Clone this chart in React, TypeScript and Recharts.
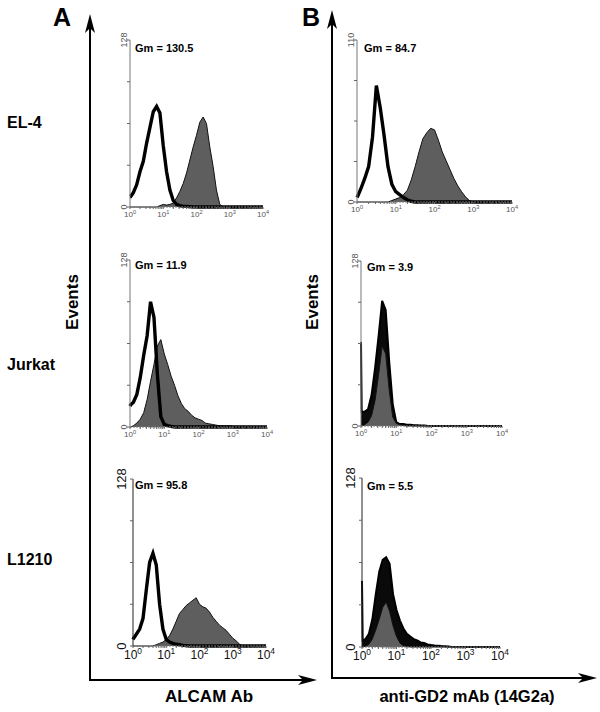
import React from 'react';
import { ComposedChart, Area, Line, XAxis, YAxis } from 'recharts';

const FONT = '"Liberation Sans", Arial, Helvetica, sans-serif';

// log10 fluorescence bins (first two points close together to show the pile-up at the axis)
const bins = [
  0, 0.02, 0.1, 0.2, 0.3, 0.4, 0.5, 0.6, 0.7, 0.8, 0.9, 1.0, 1.1, 1.2, 1.3, 1.4, 1.5, 1.6, 1.7, 1.8, 1.9,
  2.0, 2.1, 2.2, 2.3, 2.4, 2.5, 2.6, 2.7, 2.8, 2.9, 3.0, 3.1, 3.2, 3.3, 3.4, 3.5, 3.6, 3.7, 3.8, 3.9, 4.0,
];

// A: ALCAM Ab, open = control, filled = stained
const el4AlcamCtrl = [8, 8, 11, 17, 27, 35, 49, 61, 73, 77, 72, 47, 27, 13, 5, 2, 1, 0.5, 0.5, 0.3, 0, 0, 0, 0, 0, 0, 0, 0, 0, 0, 0, 0, 0, 0, 0, 0, 0, 0, 0, 0, 0, 0];
const el4AlcamAb = [0, 0, 0, 0, 0, 0, 0, 0, 0, 0, 1, 2, 1.5, 2, 3, 7, 12, 18, 26, 36, 46, 55, 65, 69, 64, 46, 31, 13, 2, 0, 0, 0, 0, 0, 0, 0, 0, 0, 0, 0, 0, 0];
const jurkatAlcamCtrl = [16, 17, 19, 25, 38, 55, 70, 96, 84, 40, 8, 2, 1, 0.5, 0, 0, 0, 0, 0, 0, 0, 0, 0, 0, 0, 0, 0, 0, 0, 0, 0, 0, 0, 0, 0, 0, 0, 0, 0, 0, 0, 0];
const jurkatAlcamAb = [0, 0, 1, 3, 6, 11, 21, 35, 48, 62, 67, 56, 48, 39, 32, 24, 18, 14, 12, 9, 7, 6, 5, 3, 2.5, 2, 1.5, 1, 1, 0.8, 1, 0.5, 0.5, 0.4, 0.5, 0.3, 0.4, 0.3, 0.3, 0.2, 0.2, 0];
const l1210AlcamCtrl = [5, 6, 9, 13, 21, 43, 64, 71, 62, 32, 13, 5, 3, 2, 1.3, 1, 0.5, 0.3, 0, 0, 0, 0, 0, 0, 0, 0, 0, 0, 0, 0, 0, 0, 0, 0, 0, 0, 0, 0, 0, 0, 0, 0];
const l1210AlcamAb = [0, 0, 0, 0, 0, 0, 0, 0, 1, 2, 3, 5, 8, 13, 19, 25, 28, 31, 33, 35, 37, 32, 30, 29, 26, 22, 19, 16, 14, 12, 9, 6, 4, 1.5, 0, 0, 0, 0, 0, 0, 0, 0];

// B: anti-GD2 mAb (14G2a)
const el4Gd2Ctrl = [3, 4, 9, 16, 24, 44, 79, 64, 45, 24, 12, 7, 5, 3, 1.5, 0.5, 0, 0, 0, 0, 0, 0, 0, 0, 0, 0, 0, 0, 0, 0, 0, 0, 0, 0, 0, 0, 0, 0, 0, 0, 0, 0];
const el4Gd2Ab = [0, 0, 0, 0, 0, 0, 0, 0, 0, 0, 1, 2, 3, 5, 8, 15, 24, 34, 43, 47, 50, 49, 42, 34, 28, 22, 16, 11, 7, 3.5, 1, 0, 0, 0, 0, 0, 0, 0, 0, 0, 0, 0];
const jurkatGd2Ctrl = [65, 11, 11, 13, 24, 45, 70, 97, 90, 50, 17, 3, 1.5, 1.5, 1, 1, 0.5, 0.5, 0.3, 0.3, 0, 0, 0, 0, 0, 0, 0, 0, 0, 0, 0, 0, 0, 0, 0, 0, 0, 0, 0, 0, 0, 0];
const jurkatGd2Ab = [0, 0, 1, 3, 8, 20, 40, 62, 56, 28, 7, 2, 1, 0.5, 0, 0, 0, 0, 0, 0, 0, 0, 0, 0, 0, 0, 0, 0, 0, 0, 0, 0, 0, 0, 0, 0, 0, 0, 0, 0, 0, 0];
const l1210Gd2Ctrl = [50, 5, 6, 10, 21, 40, 57, 66, 68, 63, 40, 28, 20, 14, 10, 8, 6, 5, 3.5, 3, 2, 1.5, 1.2, 1, 0.7, 0.5, 0.3, 0, 0, 0, 0, 0, 0, 0, 0, 0, 0, 0, 0, 0, 0, 0];
const l1210Gd2Ab = [0, 0, 0.5, 2, 6, 13, 21, 30, 34, 27, 16, 8, 3, 1, 0.5, 0, 0, 0, 0, 0, 0, 0, 0, 0, 0, 0, 0, 0, 0, 0, 0, 0, 0, 0, 0, 0, 0, 0, 0, 0, 0, 0];

const gmValues = ['130.5', '11.9', '95.8', '84.7', '3.9', '5.5'];
const yMaxes = [128, 128, 128, 110, 128, 128];
const decades = [0, 1, 2, 3, 4];

const minorTicks: number[] = [];
[0, 1, 2, 3].forEach((d) => {
  [2, 3, 4, 5, 6, 7, 8, 9].forEach((k) => minorTicks.push(d + Math.log10(k)));
});

type PanelProps = {
  axisX: number;
  top: number;
  base: number;
  right: number;
  yMax: number;
  ctrl: number[];
  ab: number[];
  gm: string;
  gmX: number;
  gmY: number;
  large?: boolean;
  solidCtrl?: boolean;
};

const Panel: React.FC<PanelProps> = ({ axisX, top, base, right, yMax, ctrl, ab, gm, gmX, gmY, large, solidCtrl }) => {
  const data = bins.map((b, i) => ({ b, ctrl: ctrl[i], ab: ab[i] }));
  const w = right - axisX + 45;
  const h = base - top + 40;
  const q = yMax / 4;
  const fs = large ? 12 : 8;
  const yfs = large ? 13 : 9;
  const tickColor = large ? '#111' : '#555';

  const XTick = (props: any) => {
    const { x, y, payload } = props;
    if (!Number.isInteger(payload.value)) return null;
    return (
      <text x={x} y={y + fs * 0.75} textAnchor="middle" fontSize={fs} fontFamily={FONT} fill={tickColor}>
        10
        <tspan dy={-fs * 0.4} fontSize={fs * 0.7}>{payload.value}</tspan>
      </text>
    );
  };

  const YTick = (props: any) => {
    const { x, y, payload } = props;
    if (payload.value !== 0 && payload.value !== yMax) return null;
    return (
      <text
        x={x}
        y={y}
        transform={`rotate(-90 ${x} ${y})`}
        textAnchor="middle"
        fontSize={yfs}
        fontFamily={FONT}
        fill={tickColor}
      >
        {payload.value}
      </text>
    );
  };

  return (
    <>
      <div style={{ position: 'absolute', left: axisX - 30, top: top - 10 }}>
        <ComposedChart width={w} height={h} data={data} margin={{ top: 10, right: 15, bottom: 0, left: 0 }}>
          <XAxis
            dataKey="b"
            type="number"
            domain={[0, 4]}
            ticks={[...decades, ...minorTicks]}
            interval={0}
            height={30}
            tick={XTick}
            tickSize={2}
            tickLine={{ stroke: '#666' }}
            axisLine={{ stroke: '#777', strokeDasharray: '2 1' }}
          />
          <YAxis
            type="number"
            domain={[0, yMax]}
            ticks={[0, q, 2 * q, 3 * q, yMax]}
            interval={0}
            width={30}
            tick={YTick}
            tickSize={3}
            tickMargin={large ? 4 : 0}
            tickLine={{ stroke: '#666' }}
            axisLine={{ stroke: large ? '#222' : '#777' }}
          />
          {solidCtrl && (
            <Area
              dataKey="ctrl"
              type="linear"
              fill="#0a0a0a"
              fillOpacity={1}
              stroke="#000"
              strokeWidth={2}
              dot={false}
              activeDot={false}
              isAnimationActive={false}
            />
          )}
          <Area
            dataKey="ab"
            type="linear"
            fill="#5e5e5e"
            fillOpacity={1}
            stroke="#111"
            strokeWidth={1}
            dot={false}
            activeDot={false}
            isAnimationActive={false}
          />
          {!solidCtrl && (
            <Line
              dataKey="ctrl"
              type="linear"
              stroke="#000"
              strokeWidth={3.4}
              dot={false}
              activeDot={false}
              isAnimationActive={false}
            />
          )}
        </ComposedChart>
      </div>
      <div
        style={{
          position: 'absolute',
          left: gmX,
          top: gmY,
          transform: 'translateY(-50%)',
          fontFamily: FONT,
          fontSize: 11,
          fontWeight: 'bold',
          whiteSpace: 'nowrap',
        }}
      >
        Gm = {gm}
      </div>
    </>
  );
};

const Text: React.FC<{ x: number; y: number; size: number; rotate?: boolean; left?: boolean; children: React.ReactNode }> = ({
  x,
  y,
  size,
  rotate,
  left,
  children,
}) => (
  <div
    style={{
      position: 'absolute',
      left: x,
      top: y,
      transform: left ? 'translateY(-50%)' : `translate(-50%, -50%)${rotate ? ' rotate(-90deg)' : ''}`,
      fontFamily: FONT,
      fontSize: size,
      fontWeight: 'bold',
      whiteSpace: 'nowrap',
      lineHeight: 1,
    }}
  >
    {children}
  </div>
);

const App: React.FC = () => {
  const upArrow = (x: number, tip: number) => `${x},${tip} ${x + 5},${tip + 19} ${x},${tip + 14} ${x - 5},${tip + 19}`;
  const rightArrow = (tip: number, y: number) => `${tip},${y} ${tip - 19},${y - 5} ${tip - 14},${y} ${tip - 19},${y + 5}`;

  return (
    <div style={{ position: 'absolute', left: 0, top: 0, width: 600, height: 712, background: '#fff', overflow: 'hidden' }}>
      <svg width={600} height={712} style={{ position: 'absolute', left: 0, top: 0 }}>
        <line x1={90} y1={681} x2={90} y2={28} stroke="#000" strokeWidth={2} />
        <line x1={89} y1={680} x2={303} y2={680} stroke="#000" strokeWidth={2} />
        <polygon points={upArrow(90, 14)} fill="#000" />
        <polygon points={rightArrow(317, 680)} fill="#000" />
        <line x1={332} y1={679} x2={332} y2={24} stroke="#000" strokeWidth={2} />
        <line x1={331} y1={678} x2={584} y2={678} stroke="#000" strokeWidth={2} />
        <polygon points={upArrow(332, 10)} fill="#000" />
        <polygon points={rightArrow(597, 678)} fill="#000" />
      </svg>

      <Panel axisX={130} top={40} base={207} right={263} yMax={yMaxes[0]} ctrl={el4AlcamCtrl} ab={el4AlcamAb} gm={gmValues[0]} gmX={135} gmY={48} />
      <Panel axisX={130} top={260} base={427} right={267} yMax={yMaxes[1]} ctrl={jurkatAlcamCtrl} ab={jurkatAlcamAb} gm={gmValues[1]} gmX={135} gmY={265} />
      <Panel axisX={133} top={479} base={646} right={266} yMax={yMaxes[2]} ctrl={l1210AlcamCtrl} ab={l1210AlcamAb} gm={gmValues[2]} gmX={135} gmY={485} large />
      <Panel axisX={357} top={40} base={202} right={512} yMax={yMaxes[3]} ctrl={el4Gd2Ctrl} ab={el4Gd2Ab} gm={gmValues[3]} gmX={364} gmY={48} />
      <Panel axisX={361} top={261} base={426} right={502} yMax={yMaxes[4]} ctrl={jurkatGd2Ctrl} ab={jurkatGd2Ab} gm={gmValues[4]} gmX={367} gmY={267} solidCtrl />
      <Panel axisX={362} top={478} base={647} right={500} yMax={yMaxes[5]} ctrl={l1210Gd2Ctrl} ab={l1210Gd2Ab} gm={gmValues[5]} gmX={367} gmY={486} large solidCtrl />

      <Text x={62} y={17} size={25}>A</Text>
      <Text x={311} y={17} size={25}>B</Text>
      <Text x={7} y={123} size={16} left>EL-4</Text>
      <Text x={7} y={365} size={16} left>Jurkat</Text>
      <Text x={7} y={560} size={16} left>L1210</Text>
      <Text x={72} y={302} size={17} rotate>Events</Text>
      <Text x={312} y={302} size={17} rotate>Events</Text>
      <Text x={209} y={696} size={17}>ALCAM Ab</Text>
      <Text x={467} y={696} size={16.5}>anti-GD2 mAb (14G2a)</Text>
    </div>
  );
};

export default App;
